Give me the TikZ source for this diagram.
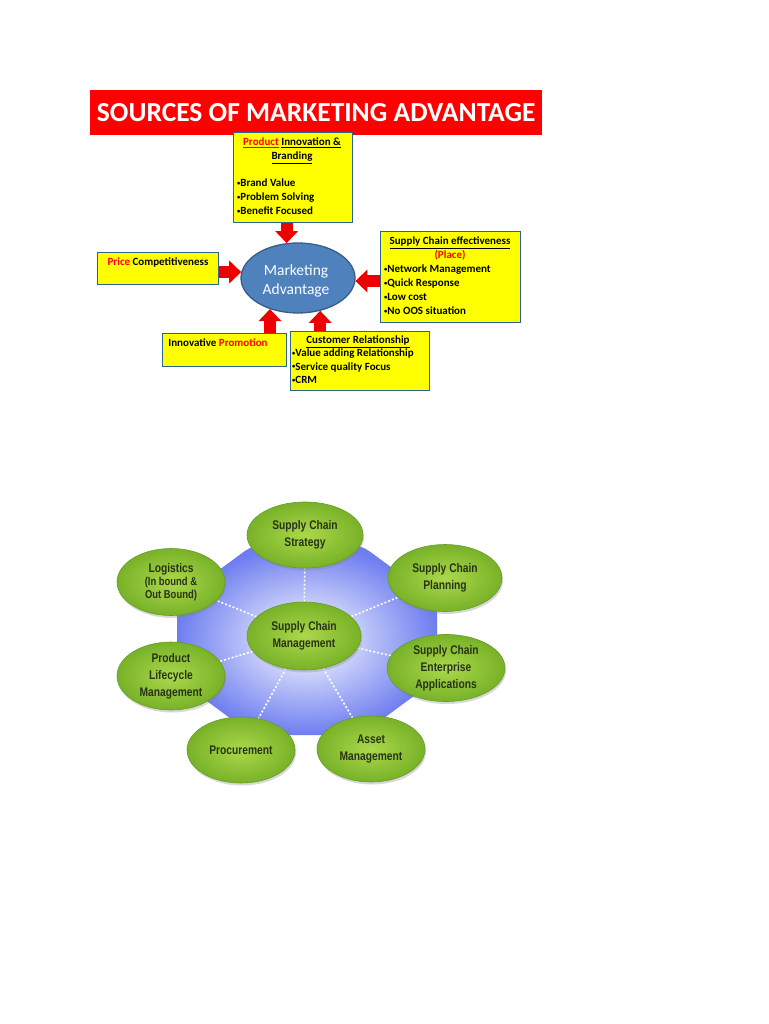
\documentclass[tikz,border=0pt]{standalone}
\usepackage{fontspec}
\setmainfont{Carlito}
\newfontfamily\scfont[FakeStretch=0.82]{Liberation Sans}
\usetikzlibrary{arrows.meta,shapes.geometric,shadows,backgrounds,calc}
\definecolor{boxyellow}{RGB}{255,255,0}
\definecolor{boxedge}{RGB}{45,100,150}
\definecolor{maFill}{RGB}{79,129,189}
\definecolor{maEdge}{RGB}{56,93,138}
\definecolor{arrowred}{RGB}{238,0,0}
\definecolor{titlered}{RGB}{255,0,0}
\definecolor{greenIn}{RGB}{172,216,74}
\definecolor{greenOut}{RGB}{120,178,40}
\definecolor{greenEdge}{RGB}{105,155,40}
\definecolor{octBlue}{RGB}{110,126,240}
\definecolor{sctext}{RGB}{40,50,25}
\newcommand\mybul{\raisebox{1.8pt}{\fontsize{6.5}{6.5}\selectfont\textbullet}}
\begin{document}
\begin{tikzpicture}[x=1pt,y=-1pt,
  ybox/.style={draw=boxedge, line width=1.2pt, fill=boxyellow, rectangle, inner sep=0pt, anchor=north west},
  btxt/.style={font=\fontsize{11}{14}\selectfont\bfseries, inner sep=0pt, align=left, anchor=north west},
  ctxt/.style={font=\fontsize{11}{14}\selectfont\bfseries, inner sep=0pt, align=center, anchor=north},
  bigarrow/.style={draw=arrowred, line width=12pt, -{Triangle[width=23pt,length=12pt,line width=0pt]}},
  gell/.style={ellipse, draw=greenEdge, line width=0.6pt, inner color=greenIn, outer color=greenOut,
    drop shadow={opacity=0.3, shadow xshift=1pt, shadow yshift=-2.5pt},
    font=\scfont\bfseries\fontsize{12.5}{17}\selectfont, text=sctext, align=center, inner sep=0pt},
  dotline/.style={draw=white, line width=1.6pt, dash pattern=on 2pt off 2pt}
]
\useasboundingbox (0,0) rectangle (768,1024);

% ---------- Title ----------
\node[fill=titlered, minimum width=452, minimum height=45, inner sep=0pt, anchor=north west,
  text=white, font=\fontsize{27.5}{30}\selectfont\bfseries] (title) at (90,90) {SOURCES OF MARKETING ADVANTAGE};

% ---------- Marketing advantage ----------
\node[ellipse, draw=maEdge, line width=1.3pt, fill=maFill, minimum width=114, minimum height=70,
  inner sep=0pt] (ma) at (298,278) {};
\node[text=white, align=center, inner sep=0pt, font=\fontsize{15.5}{19}\selectfont] (maT) at (296,281) {Marketing\\Advantage};

\node[ybox, minimum width=119, minimum height=90] (prod) at (233,132) {};
\node[ctxt] (prodT) at (292,138) {\textcolor{red}{\underline{Product}} \underline{Innovation \&}\\\underline{Branding}};
\node[btxt] (prodB) at (237,179) {\mybul Brand Value\\\mybul Problem Solving\\\mybul Benefit Focused};

\node[ybox, minimum width=121, minimum height=32] (price) at (97,252) {};
\node[ctxt] (priceT) at (158,258) {\textcolor{red}{Price} Competitiveness};

\node[ybox, minimum width=140, minimum height=91] (sup) at (380,231) {};
\node[ctxt] (supT) at (450,237) {\underline{Supply Chain effectiveness}\\\textcolor{red}{(Place)}};
\node[btxt] (supB) at (384,265) {\mybul Network Management\\\mybul Quick Response\\\mybul Low cost\\\mybul No OOS situation};

\node[ybox, minimum width=124, minimum height=33] (promo) at (162,333) {};
\node[ctxt] (promoT) at (218,339) {Innovative \textcolor{red}{Promotion}};

\node[ybox, minimum width=139, minimum height=59] (cr) at (290,331) {};
\node[ctxt] (crT) at (358,336) {\underline{Customer Relationship}};
\node[btxt, font=\fontsize{11}{13.5}\selectfont\bfseries] (crB) at (292,349) {\mybul Value adding Relationship\\\mybul Service quality Focus\\\mybul CRM};

\draw[bigarrow] (prod.south -| ma.108) -- (ma.108);
\draw[bigarrow] (price.east |- ma.174) -- (ma.174);
\draw[bigarrow] (sup.west |- ma.-3) -- (ma.-3);
\draw[bigarrow] (promo.north -| ma.-132) -- (ma.-132);
\draw[bigarrow] (cr.north -| ma.-56) -- (ma.-56);

% ---------- Supply chain management ----------
\node[gell, minimum width=114, minimum height=68] (scm) at (304,636) {Supply Chain\\Management};
\node[gell, minimum width=116, minimum height=66] (str) at (305,535) {Supply Chain\\Strategy};
\node[gell, minimum width=114, minimum height=67] (plan) at (445,578) {Supply Chain\\Planning};
\node[gell, minimum width=108, minimum height=67] (log) at (171,582) {Logistics\\[-4pt]{\fontsize{11.5}{13}\selectfont(In bound \&}\\[-4pt]{\fontsize{11.5}{13}\selectfont Out Bound)}};
\node[gell, minimum width=118, minimum height=67] (ent) at (446,668) {Supply Chain\\Enterprise\\Applications};
\node[gell, minimum width=108, minimum height=68] (plm) at (171,676) {Product\\Lifecycle\\Management};
\node[gell, minimum width=108, minimum height=66] (proc) at (241,750) {Procurement};
\node[gell, minimum width=108, minimum height=66] (asset) at (371,749) {Asset\\Management};

\begin{scope}[on background layer]
  \fill[white] (0,0) rectangle (768,1024);
  \shade[inner color=white, outer color=octBlue, rounded corners=10pt]
    (437,601) -- (361,545) -- (253,545) -- (177,601) -- (177,679) -- (253,735) -- (361,735) -- (437,679) -- cycle;
  \draw[dotline] (scm) -- (str);
  \draw[dotline] (scm) -- (plan);
  \draw[dotline] (scm) -- (log);
  \draw[dotline] (scm) -- (ent);
  \draw[dotline] (scm) -- (plm);
  \draw[dotline] (scm) -- (proc);
  \draw[dotline] (scm) -- (asset);
\end{scope}
\end{tikzpicture}
\end{document}
